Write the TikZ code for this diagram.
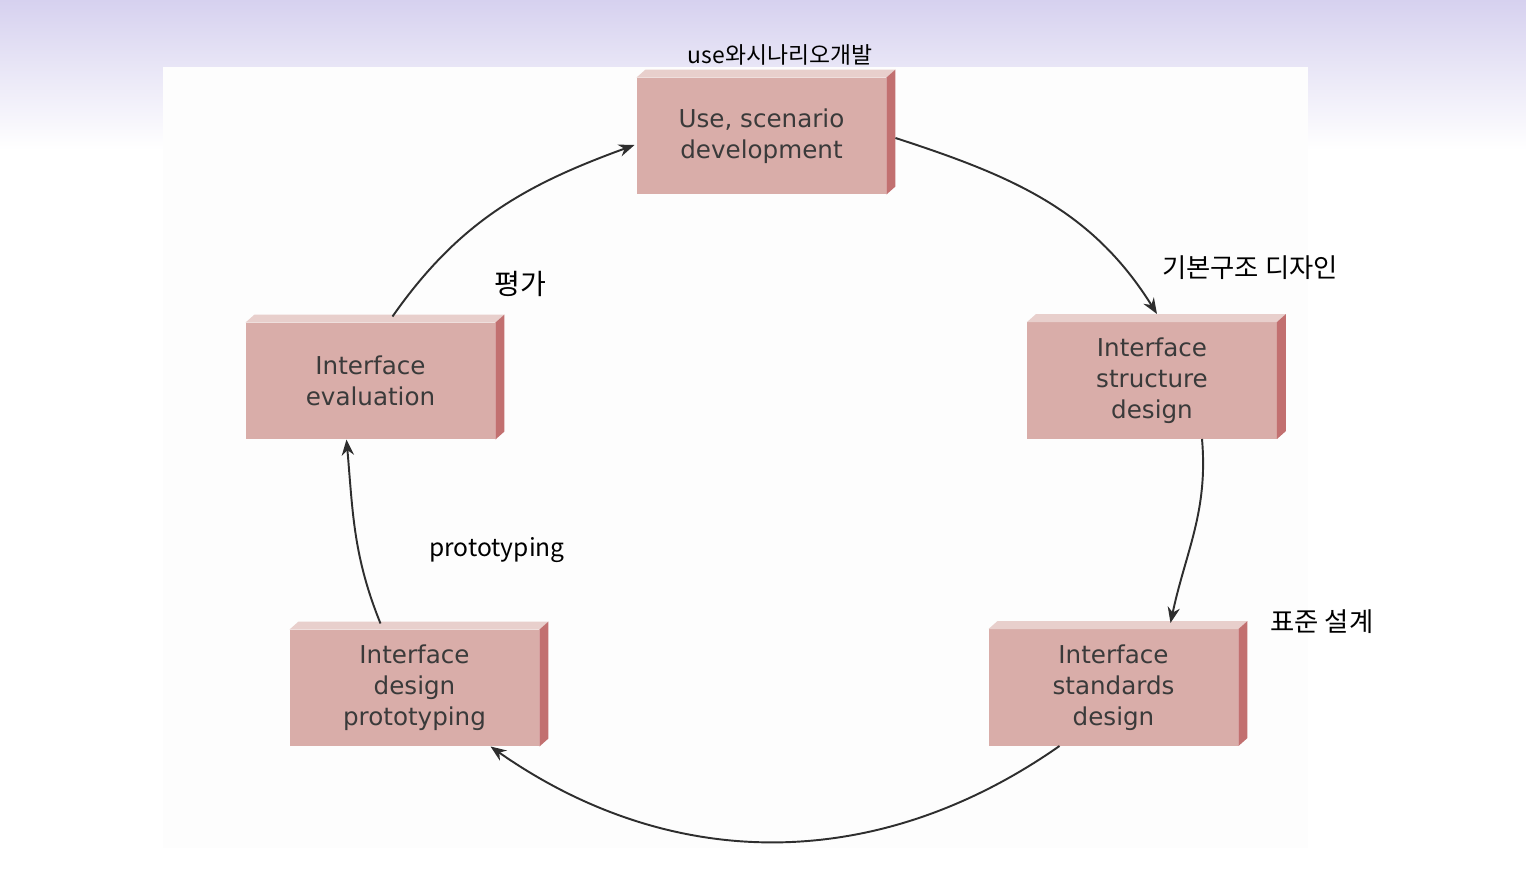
\documentclass[tikz,border=0pt]{standalone}
\usepackage{fontspec}
\setmainfont{DejaVu Sans}
\newfontfamily\handfont{Noto Sans CJK KR}
\usepackage{tikz}
\usetikzlibrary{arrows.meta,positioning,calc}
\usepackage{xcolor}
\definecolor{lavender}{HTML}{D6D1EF}
\definecolor{panelwh}{HTML}{FDFDFD}
\definecolor{slabface}{HTML}{D9ADA9}
\definecolor{slabtop}{HTML}{E8CFCC}
\definecolor{slabside}{HTML}{C27070}
\definecolor{inkgray}{HTML}{3A3A3A}
\definecolor{arrgray}{HTML}{2E2E2E}
\tikzset{
  slab/.style={rectangle,fill=slabface,minimum width=5.0cm,minimum height=2.34cm,
               inner sep=0pt,outer sep=0pt,align=center,text=inkgray,
               font=\fontsize{14pt}{17.6pt}\selectfont},
  topface/.style={fill=slabtop},
  sideface/.style={fill=slabside},
  cyc/.style={-{Stealth[length=9pt,width=7pt]},line width=1.1pt,color=arrgray},
  hand/.style={font=\handfont\fontsize{#1}{#1}\selectfont,text=black,inner sep=0pt},
}
\newcommand{\slabdepth}[1]{%
  \fill[topface] (#1.north west) -- ++(9,-8) -- ([shift={(9,-8)}]#1.north east)
    -- (#1.north east) -- cycle;
  \fill[sideface] (#1.north east) -- ([shift={(9,-8)}]#1.north east)
    -- ([shift={(9,-8)}]#1.south east) -- (#1.south east) -- cycle;}

\begin{document}
\begin{tikzpicture}[x=0.02cm,y=-0.02cm]

  %% ── page: slide gradient + white panel ───────────────────────────────────
  \useasboundingbox (0,0) rectangle (1526,895);
  \shade[top color=lavender,bottom color=white] (0,0) rectangle (1526,150);
  \fill[panelwh] (163,67) rectangle (1308,848);

  %% ── the five stages ──────────────────────────────────────────────────────
  \node[slab] (use)    at (761.5,136)   {Use, scenario\\development};
  \node[slab] (struct) at (1152,380.5)  {Interface\\structure\\design};
  \node[slab] (stand)  at (1113.5,687.5){Interface\\standards\\design};
  \node[slab] (proto)  at (414.5,688)   {Interface\\design\\prototyping};
  \node[slab] (eval)   at (370.5,381)   {Interface\\evaluation};

  \slabdepth{use}
  \slabdepth{struct}
  \slabdepth{stand}
  \slabdepth{proto}
  \slabdepth{eval}

  %% ── cycle arrows ─────────────────────────────────────────────────────────
  \draw[cyc] ([shift={(9,2)}]use.east) to[out=-18,in=122]
             ([shift={(5,-8)}]struct.north);
  \draw[cyc] ([shift={(50,0)}]struct.south) to[out=-85,in=78]
             ([shift={(57,-6)}]stand.north);
  \draw[cyc] ([shift={(-54,0)}]stand.south) to[out=-145,in=-35]
             ([shift={(76,0)}]proto.south);
  \draw[cyc] ([shift={(-34,-6)}]proto.north) to[out=112,in=-85]
             ([shift={(-24,0)}]eval.south);
  \draw[cyc] ([shift={(22,-6)}]eval.north) to[out=55,in=-160]
             ([shift={(-2,9)}]use.west);

  %% ── handwritten notes ────────────────────────────────────────────────────
  \node[hand=13pt] (nuse)    at (780,55)   {use와시나리오개발};
  \node[hand=15pt] (nstruct) at (1250,268) {기본구조 디자인};
  \node[hand=15pt] (nstand)  at (1322,622) {표준 설계};
  \node[hand=16pt] (neval)   at (520,284)  {평가};
  \node[hand=14pt] (nproto)  at (497,550)  {prototyping};

\end{tikzpicture}
\end{document}
